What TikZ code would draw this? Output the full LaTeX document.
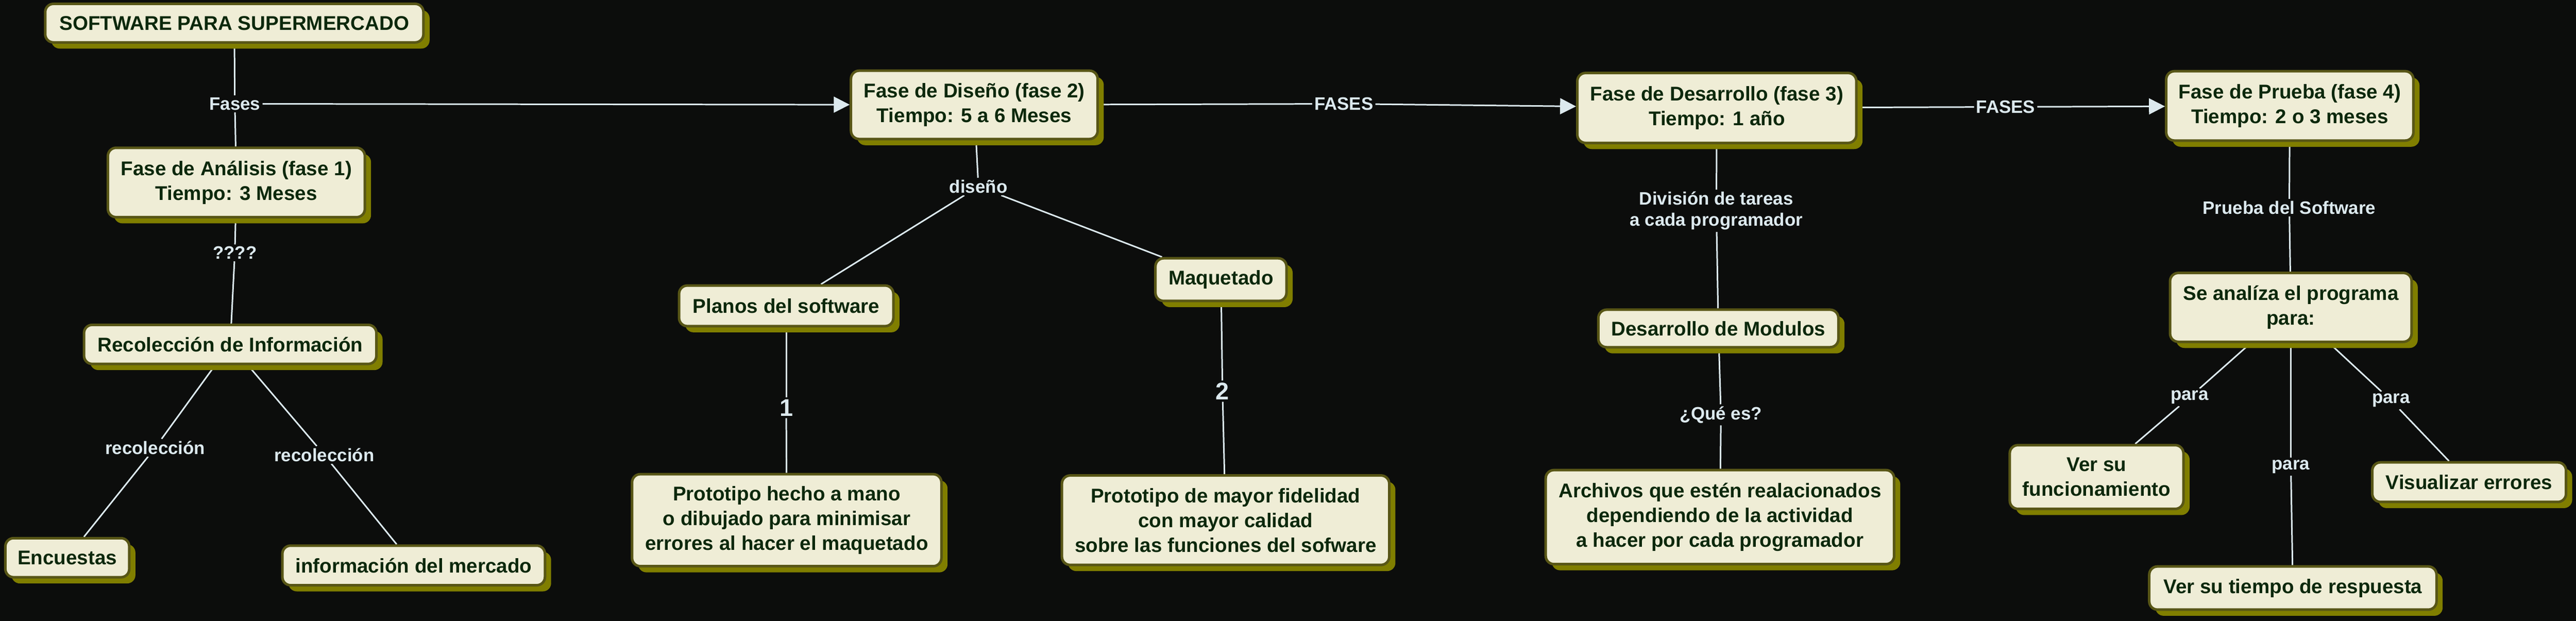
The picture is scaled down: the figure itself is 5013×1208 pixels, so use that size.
\documentclass[tikz,border=0pt]{standalone}
\usepackage{fontspec}
\setmainfont{Liberation Sans}
\usetikzlibrary{shadows,arrows.meta}
\pgfdeclarelayer{bg}
\pgfdeclarelayer{background}
\pgfsetlayers{bg,background,main}
\definecolor{bgc}{RGB}{12,13,12}
\definecolor{boxfill}{RGB}{239,237,214}
\definecolor{boxborder}{RGB}{88,86,22}
\definecolor{shadowc}{RGB}{128,126,0}
\definecolor{boxtext}{RGB}{12,40,12}
\definecolor{linec}{RGB}{220,233,238}
\tikzset{
  box/.style={draw=boxborder, line width=5pt, fill=boxfill, rounded corners=16pt,
    text=boxtext, font=\bfseries\fontsize{38.7}{48}\selectfont, align=center, inner sep=0pt,
    drop shadow={fill=shadowc, draw=none, opacity=1, shadow xshift=12pt, shadow yshift=-12pt}},
  lbl/.style={fill=bgc, text=linec, font=\bfseries\fontsize{35}{41}\selectfont,
    inner sep=4pt, align=center},
  biglbl/.style={lbl, font=\bfseries\fontsize{47}{52}\selectfont},
  conn/.style={draw=linec, line width=3pt},
  arr/.style={conn, -{Triangle[length=31pt,width=31pt]}, fill=linec}
}
\begin{document}
\begin{tikzpicture}[x=1pt,y=-1pt]
\useasboundingbox (0,0) rectangle (5013,1208);
\begin{pgfonlayer}{bg}
\fill[bgc] (0,0) rectangle (5013,1208);
\end{pgfonlayer}

% boxes
\node[box, minimum width=736pt, minimum height=75pt] (top) at (456,45) {SOFTWARE PARA SUPERMERCADO};
\node[box, minimum width=500pt, minimum height=135pt] (ana) at (460,355) {Fase de Análisis (fase 1)\\Tiempo: 3 Meses};
\node[box, minimum width=569pt, minimum height=76pt] (rec) at (448,670) {Recolección de Información};
\node[box, minimum width=241pt, minimum height=76pt] (enc) at (131,1085) {Encuestas};
\node[box, minimum width=511pt, minimum height=77pt] (inf) at (805,1100) {información del mercado};
\node[box, minimum width=480pt, minimum height=133pt] (dis) at (1896,204) {Fase de Diseño (fase 2)\\Tiempo: 5 a 6 Meses};
\node[box, minimum width=417pt, minimum height=79pt] (pla) at (1530,595) {Planos del software};
\node[box, minimum width=255pt, minimum height=83pt] (maq) at (2376,544) {Maquetado};
\node[box, minimum width=602pt, minimum height=179pt] (pro1) at (1531,1012) {Prototipo hecho a mano\\o dibujado para minimisar\\errores al hacer el maquetado};
\node[box, minimum width=637pt, minimum height=174pt] (pro2) at (2385,1012) {Prototipo de mayor fidelidad\\con mayor calidad\\sobre las funciones del sofware};
\node[box, minimum width=543pt, minimum height=136pt] (des) at (3341,210) {Fase de Desarrollo (fase 3)\\Tiempo: 1 año};
\node[box, minimum width=467pt, minimum height=73pt] (mod) at (3344,639) {Desarrollo de Modulos};
\node[box, minimum width=678pt, minimum height=183pt] (arc) at (3347,1006) {Archivos que estén realacionados\\dependiendo de la actividad\\a hacer por cada programador};
\node[box, minimum width=481pt, minimum height=135pt] (pru) at (4456,206) {Fase de Prueba (fase 4)\\Tiempo: 2 o 3 meses};
\node[box, minimum width=470pt, minimum height=134pt] (sea) at (4458,598) {Se analíza el programa\\para:};
\node[box, minimum width=338pt, minimum height=124pt] (ver1) at (4080,928) {Ver su\\funcionamiento};
\node[box, minimum width=559pt, minimum height=84pt] (ver2) at (4462,1144) {Ver su tiempo de respuesta};
\node[box, minimum width=377pt, minimum height=77pt] (vis) at (4805,938) {Visualizar errores};

% labels
\node[lbl] (lFases) at (457,202) {Fases};
\node[lbl] (lq) at (457,492) {????};
\node[lbl] (lr1) at (302,871) {recolección};
\node[lbl] (lr2) at (631,885) {recolección};
\node[lbl] (ldis) at (1904,363) {diseño};
\node[biglbl] (l1) at (1530,793) {1};
\node[biglbl] (l2) at (2379,761) {2};
\node[lbl] (lF1) at (2615,202) {FASES};
\node[lbl] (lF2) at (3903,208) {FASES};
\node[lbl] (ldiv) at (3340,410) {División de tareas\\a cada programador};
\node[lbl] (lque) at (3349,807) {¿Qué es?};
\node[lbl] (lpru) at (4455,404) {Prueba del Software};
\node[lbl] (lp1) at (4261,773) {para};
\node[lbl] (lp2) at (4458,908) {para};
\node[lbl] (lp3) at (4653,779) {para};

% connectors
\begin{pgfonlayer}{background}
\draw[conn] (top) -- (lFases);
\draw[conn] (lFases) -- (ana);
\draw[arr] (lFases) -- (dis);
\draw[conn] (ana) -- (lq);
\draw[conn] (lq) -- (rec);
\draw[conn] (rec) -- (lr1);
\draw[conn] (lr1) -- (enc);
\draw[conn] (rec) -- (lr2);
\draw[conn] (lr2) -- (inf);
\draw[conn] (dis) -- (ldis);
\draw[conn] (ldis) -- (pla);
\draw[conn] (ldis) -- (maq);
\draw[conn] (pla) -- (l1);
\draw[conn] (l1) -- (pro1);
\draw[conn] (maq) -- (l2);
\draw[conn] (l2) -- (pro2);
\draw[conn] (dis) -- (lF1);
\draw[arr] (lF1) -- (des);
\draw[conn] (des) -- (ldiv);
\draw[conn] (ldiv) -- (mod);
\draw[conn] (mod) -- (lque);
\draw[conn] (lque) -- (arc);
\draw[conn] (des) -- (lF2);
\draw[arr] (lF2) -- (pru);
\draw[conn] (pru) -- (lpru);
\draw[conn] (lpru) -- (sea);
\draw[conn] (sea) -- (lp1);
\draw[conn] (lp1) -- (ver1);
\draw[conn] (sea) -- (lp2);
\draw[conn] (lp2) -- (ver2);
\draw[conn] (sea) -- (lp3);
\draw[conn] (lp3) -- (vis);
\end{pgfonlayer}
\end{tikzpicture}
\end{document}
